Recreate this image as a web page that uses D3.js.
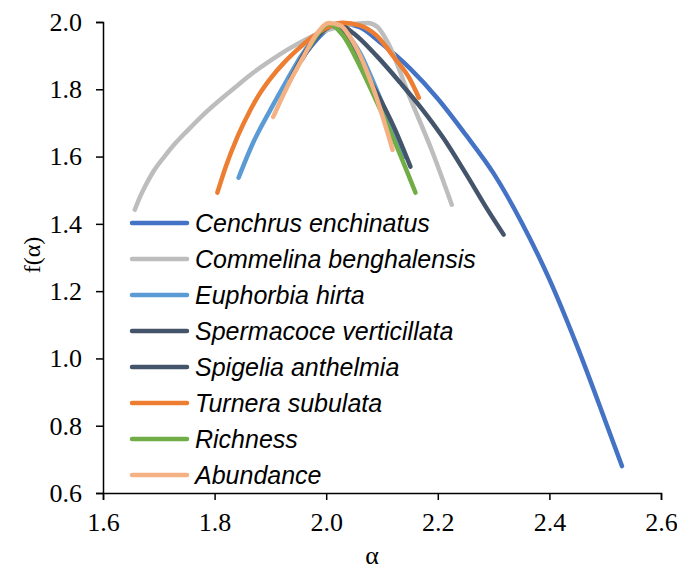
<!DOCTYPE html>
<html><head><meta charset="utf-8">
<script src="https://cdn.jsdelivr.net/npm/d3@7"></script>
<style>body{margin:0;background:#fff} .serif{font-family:"Liberation Serif","Times New Roman",serif}</style>
</head><body>
<svg id="c" width="677" height="571"></svg>
<script>
const seriesNames = ["Cenchrus enchinatus","Commelina benghalensis","Euphorbia hirta","Spermacoce verticillata","Spigelia anthelmia","Turnera subulata","Richness","Abundance"];
const seriesColors = ["#4472C4","#BDBDBD","#5B9BD5","#44546A","#44546A","#ED7D31","#70AD47","#F4B183"];
const cenchrus = [[1.96,1.90],[2.0,1.975],[2.03,1.995],[2.06,1.985],[2.10,1.935],[2.15,1.862],[2.20,1.772],[2.25,1.665],[2.30,1.55],[2.35,1.405],[2.40,1.235],[2.45,1.035],[2.50,0.815],[2.53,0.68]];
const commelina = [[1.657,1.442],[1.665,1.475],[1.675,1.51],[1.69,1.555],[1.71,1.60],[1.73,1.64],[1.75,1.675],[1.78,1.725],[1.81,1.769],[1.84,1.81],[1.869,1.849],[1.90,1.885],[1.93,1.917],[1.96,1.945],[2.0,1.975],[2.04,1.992],[2.075,1.997],[2.092,1.985],[2.11,1.94],[2.15,1.775],[2.19,1.615],[2.225,1.457]];
const euphorbia = [[1.843,1.537],[1.869,1.641],[1.90,1.739],[1.93,1.828],[1.954,1.896],[1.98,1.955],[2.005,1.993],[2.03,1.975],[2.06,1.91],[2.09,1.80],[2.12,1.68],[2.14,1.60]];
const spermacoce = [[1.936,1.83],[1.97,1.93],[2.0,1.98],[2.02,1.995],[2.05,1.965],[2.09,1.90],[2.133,1.819],[2.17,1.745],[2.21,1.655],[2.25,1.55],[2.29,1.44],[2.318,1.368]];
const spigelia = [[1.957,1.89],[1.98,1.95],[2.005,1.99],[2.03,1.97],[2.074,1.84],[2.10,1.76],[2.121,1.689],[2.151,1.57]];
const turnera = [[1.805,1.493],[1.82,1.57],[1.84,1.655],[1.86,1.725],[1.88,1.785],[1.90,1.832],[1.925,1.88],[1.95,1.92],[1.975,1.955],[2.0,1.982],[2.03,1.998],[2.06,1.99],[2.09,1.96],[2.121,1.896],[2.15,1.83],[2.166,1.775]];
const richness = [[1.97,1.926],[1.99,1.975],[2.005,1.995],[2.03,1.96],[2.06,1.87],[2.09,1.765],[2.12,1.655],[2.16,1.493]];
const abundance = [[1.905,1.718],[1.93,1.807],[1.959,1.896],[1.984,1.967],[2.005,1.997],[2.025,1.99],[2.05,1.935],[2.085,1.80],[2.119,1.62]];
const seriesData = [cenchrus,commelina,euphorbia,spermacoce,spigelia,turnera,richness,abundance];
const xTicks = [1.6,1.8,2.0,2.2,2.4,2.6];
const yTicks = [0.6,0.8,1.0,1.2,1.4,1.6,1.8,2.0];

const svg = d3.select("#c");
const x = d3.scaleLinear().domain([1.6,2.6]).range([103,661]);
const y = d3.scaleLinear().domain([0.6,2.0]).range([493,22]);

const line = d3.line().x(d=>x(d[0])).y(d=>y(d[1])).curve(d3.curveMonotoneX);
seriesData.forEach((s,i)=>{
  svg.append("path").attr("d",line(s)).attr("fill","none")
    .attr("stroke",seriesColors[i]).attr("stroke-width",4.5).attr("stroke-linecap","round").attr("stroke-linejoin","round");
});

const xAxis = svg.append("g").attr("transform","translate(0,493)")
  .call(d3.axisBottom(x).tickValues(xTicks).tickFormat(d3.format(".1f")).tickSizeOuter(0).tickSize(7).tickPadding(13));
const yAxis = svg.append("g").attr("transform","translate(103,0)")
  .call(d3.axisLeft(y).tickValues(yTicks).tickFormat(d3.format(".1f")).tickSizeOuter(0).tickSize(7).tickPadding(14));
[xAxis,yAxis].forEach(a=>{
  a.attr("font-family",null).attr("font-size",null);
  a.selectAll("path,line").attr("stroke","#000").attr("stroke-width",1.5);
  a.selectAll("text").attr("class","serif").attr("font-size",26).attr("fill","#000");
});

svg.append("text").attr("class","serif").attr("x",372).attr("y",564).attr("text-anchor","middle")
  .attr("font-size",26).text("α");
svg.append("text").attr("class","serif").attr("transform","translate(40,255) rotate(-90)").attr("text-anchor","middle")
  .attr("font-size",24).text("f(α)");

const lg = svg.append("g");
seriesNames.forEach((n,i)=>{
  const yy = 223 + i*36;
  lg.append("line").attr("x1",132).attr("x2",187).attr("y1",yy).attr("y2",yy)
    .attr("stroke",seriesColors[i]).attr("stroke-width",4.5).attr("stroke-linecap","round");
  lg.append("text").attr("x",195).attr("y",yy+9).style("font-family","'Liberation Sans', Arial, sans-serif")
    .style("font-style","italic").style("font-size","25px").attr("fill","#000").text(n);
});
</script>
</body></html>
